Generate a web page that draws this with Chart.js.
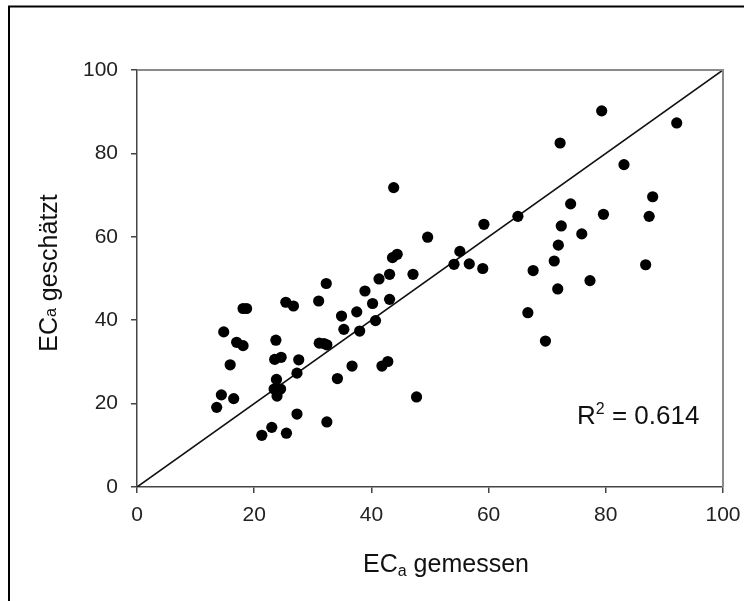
<!DOCTYPE html>
<html>
<head>
<meta charset="utf-8">
<script src="https://cdn.jsdelivr.net/npm/chart.js@4.4.1/dist/chart.umd.min.js"></script>
<style>
  html, body { margin: 0; padding: 0; background: #fff; }
  canvas { display: block; }
</style>
</head>
<body>
<canvas id="c" width="744" height="601"></canvas>
<script>
// EC_a measured (x) and EC_a estimated (y)
const measured = [13.6, 14.4, 14.8, 15.9, 16.5, 17.0, 18.1, 18.1, 18.7, 21.3,
  23.0, 23.4, 23.5, 23.7, 23.8, 23.9, 24.2, 24.5, 24.6, 25.4,
  25.5, 26.7, 27.3, 27.3, 27.6, 31.0, 31.1, 31.9, 32.3, 32.4,
  32.4, 34.2, 34.9, 35.3, 36.7, 37.5, 38.0, 38.9, 40.2, 40.7,
  41.3, 41.8, 42.8, 43.1, 43.1, 43.6, 43.8, 44.4, 47.1, 47.7,
  49.6, 54.1, 55.1, 56.7, 59.0, 59.2, 65.0, 66.7, 67.6, 69.7,
  71.2, 71.8, 71.9, 72.2, 72.4, 74.0, 75.9, 77.3, 79.3, 79.6,
  83.1, 86.8, 87.4, 88.0, 92.1];
const estimated = [19.1, 22.1, 37.2, 29.3, 21.2, 34.7, 33.9, 42.8, 42.8, 12.4,
  14.3, 23.5, 30.6, 35.2, 25.8, 21.8, 23.5, 23.5, 31.1, 44.3,
  12.9, 43.4, 27.3, 17.5, 30.5, 44.6, 34.5, 34.4, 48.8, 34.1,
  15.6, 26.0, 41.0, 37.8, 29.0, 42.0, 37.4, 47.0, 44.0, 39.9,
  49.9, 29.0, 30.1, 51.0, 45.0, 55.0, 71.8, 55.8, 51.0, 21.6,
  59.9, 53.4, 56.5, 53.5, 52.4, 63.0, 64.9, 41.8, 51.9, 35.0,
  54.2, 47.5, 58.0, 82.5, 62.6, 67.9, 60.7, 49.5, 90.2, 65.4,
  77.3, 53.3, 64.9, 69.6, 87.3];
const lineX = [0, 100];
const lineY = [0, 100];
const tickValues = [0, 20, 40, 60, 80, 100];
const r2Text = "0.614";

const FONT = "'Liberation Sans', Arial, Helvetica, sans-serif";

const decor = {
  id: 'decor',
  beforeDraw(chart) {
    const ctx = chart.ctx;
    ctx.save();
    ctx.fillStyle = '#fff';
    ctx.fillRect(0, 0, chart.width, chart.height);
    // outer figure frame (left + top visible)
    ctx.strokeStyle = '#000';
    ctx.lineWidth = 2;
    ctx.beginPath();
    ctx.moveTo(9, 601);
    ctx.lineTo(9, 6.5);
    ctx.lineTo(744, 6.5);
    ctx.stroke();
    ctx.restore();
  },
  afterDatasetsDraw(chart) {
    const ctx = chart.ctx;
    const a = chart.chartArea;
    ctx.save();
    // top/right plot frame
    ctx.strokeStyle = '#8a8a8a';
    ctx.lineWidth = 2;
    ctx.beginPath();
    ctx.moveTo(a.left, a.top);
    ctx.lineTo(a.right, a.top);
    ctx.lineTo(a.right, a.bottom);
    ctx.stroke();

    ctx.fillStyle = '#111';
    // x title
    const big = "25px " + FONT, small = "16px " + FONT;
    ctx.font = big;
    const wEC = ctx.measureText('EC').width;
    const wRest = ctx.measureText(' gemessen').width;
    ctx.font = small;
    const wa = ctx.measureText('a').width;
    const total = wEC + wa + wRest;
    let x = 446 - total / 2;
    const by = 572;
    ctx.textBaseline = 'alphabetic';
    ctx.textAlign = 'left';
    ctx.font = big; ctx.fillText('EC', x, by); x += wEC;
    ctx.font = small; ctx.fillText('a', x, by + 4); x += wa;
    ctx.font = big; ctx.fillText(' gemessen', x, by);

    // y title (rotated)
    ctx.save();
    ctx.translate(56.5, 273);
    ctx.rotate(-Math.PI / 2);
    ctx.font = big;
    const yEC = ctx.measureText('EC').width;
    const yRest = ctx.measureText(' geschätzt').width;
    ctx.font = small;
    const ya = ctx.measureText('a').width;
    let yx = -(yEC + ya + yRest) / 2;
    ctx.font = big; ctx.fillText('EC', yx, 0); yx += yEC;
    ctx.font = small; ctx.fillText('a', yx, -1); yx += ya;
    ctx.font = big; ctx.fillText(' geschätzt', yx, 0);
    ctx.restore();

    // R^2 annotation
    const ry = 424;
    let rx = 577;
    ctx.textAlign = 'left';
    ctx.font = "26px " + FONT;
    ctx.fillText('R', rx, ry); rx += ctx.measureText('R').width;
    ctx.font = "16px " + FONT;
    ctx.fillText('2', rx, ry - 10); rx += ctx.measureText('2').width;
    ctx.font = "26px " + FONT;
    ctx.fillText(' = ' + r2Text, rx, ry);
    ctx.restore();
  }
};

const tickOpts = {
  color: '#222',
  font: { family: FONT, size: 21 },
  stepSize: 20,
  autoSkip: false,
  maxRotation: 0,
  callback: (v) => tickValues.includes(v) ? String(v) : ''
};

new Chart(document.getElementById('c'), {
  type: 'scatter',
  data: {
    datasets: [
      {
        label: 'points',
        data: measured.map((m, i) => ({ x: m, y: estimated[i] })),
        backgroundColor: '#000',
        borderColor: '#000',
        pointRadius: 5.6,
        pointBorderWidth: 0,
        order: 1
      },
      {
        label: '1:1',
        type: 'line',
        data: lineX.map((v, i) => ({ x: v, y: lineY[i] })),
        borderColor: '#111',
        borderWidth: 1.6,
        pointRadius: 0,
        fill: false,
        order: 2
      }
    ]
  },
  options: {
    responsive: false,
    animation: false,
    devicePixelRatio: 1,
    layout: { padding: { top: 70, right: 21, left: 0, bottom: 0 } },
    plugins: { legend: { display: false }, tooltip: { enabled: false } },
    scales: {
      x: {
        type: 'linear', min: 0, max: 100,
        afterFit: (s) => { s.height = 114; s.paddingLeft = 0; s.paddingRight = 0; },
        grid: { drawOnChartArea: false, drawTicks: true, tickLength: 6, color: '#444', lineWidth: 1.5 },
        border: { display: true, color: '#444', width: 1.5 },
        ticks: Object.assign({ padding: 10 }, tickOpts)
      },
      y: {
        type: 'linear', min: 0, max: 100,
        afterFit: (s) => { s.width = 137; s.paddingTop = 0; s.paddingBottom = 0; },
        grid: { drawOnChartArea: false, drawTicks: true, tickLength: 6, color: '#444', lineWidth: 1.5 },
        border: { display: true, color: '#444', width: 1.5 },
        ticks: Object.assign({ padding: 13 }, tickOpts)
      }
    }
  },
  plugins: [decor]
});
</script>
</body>
</html>
